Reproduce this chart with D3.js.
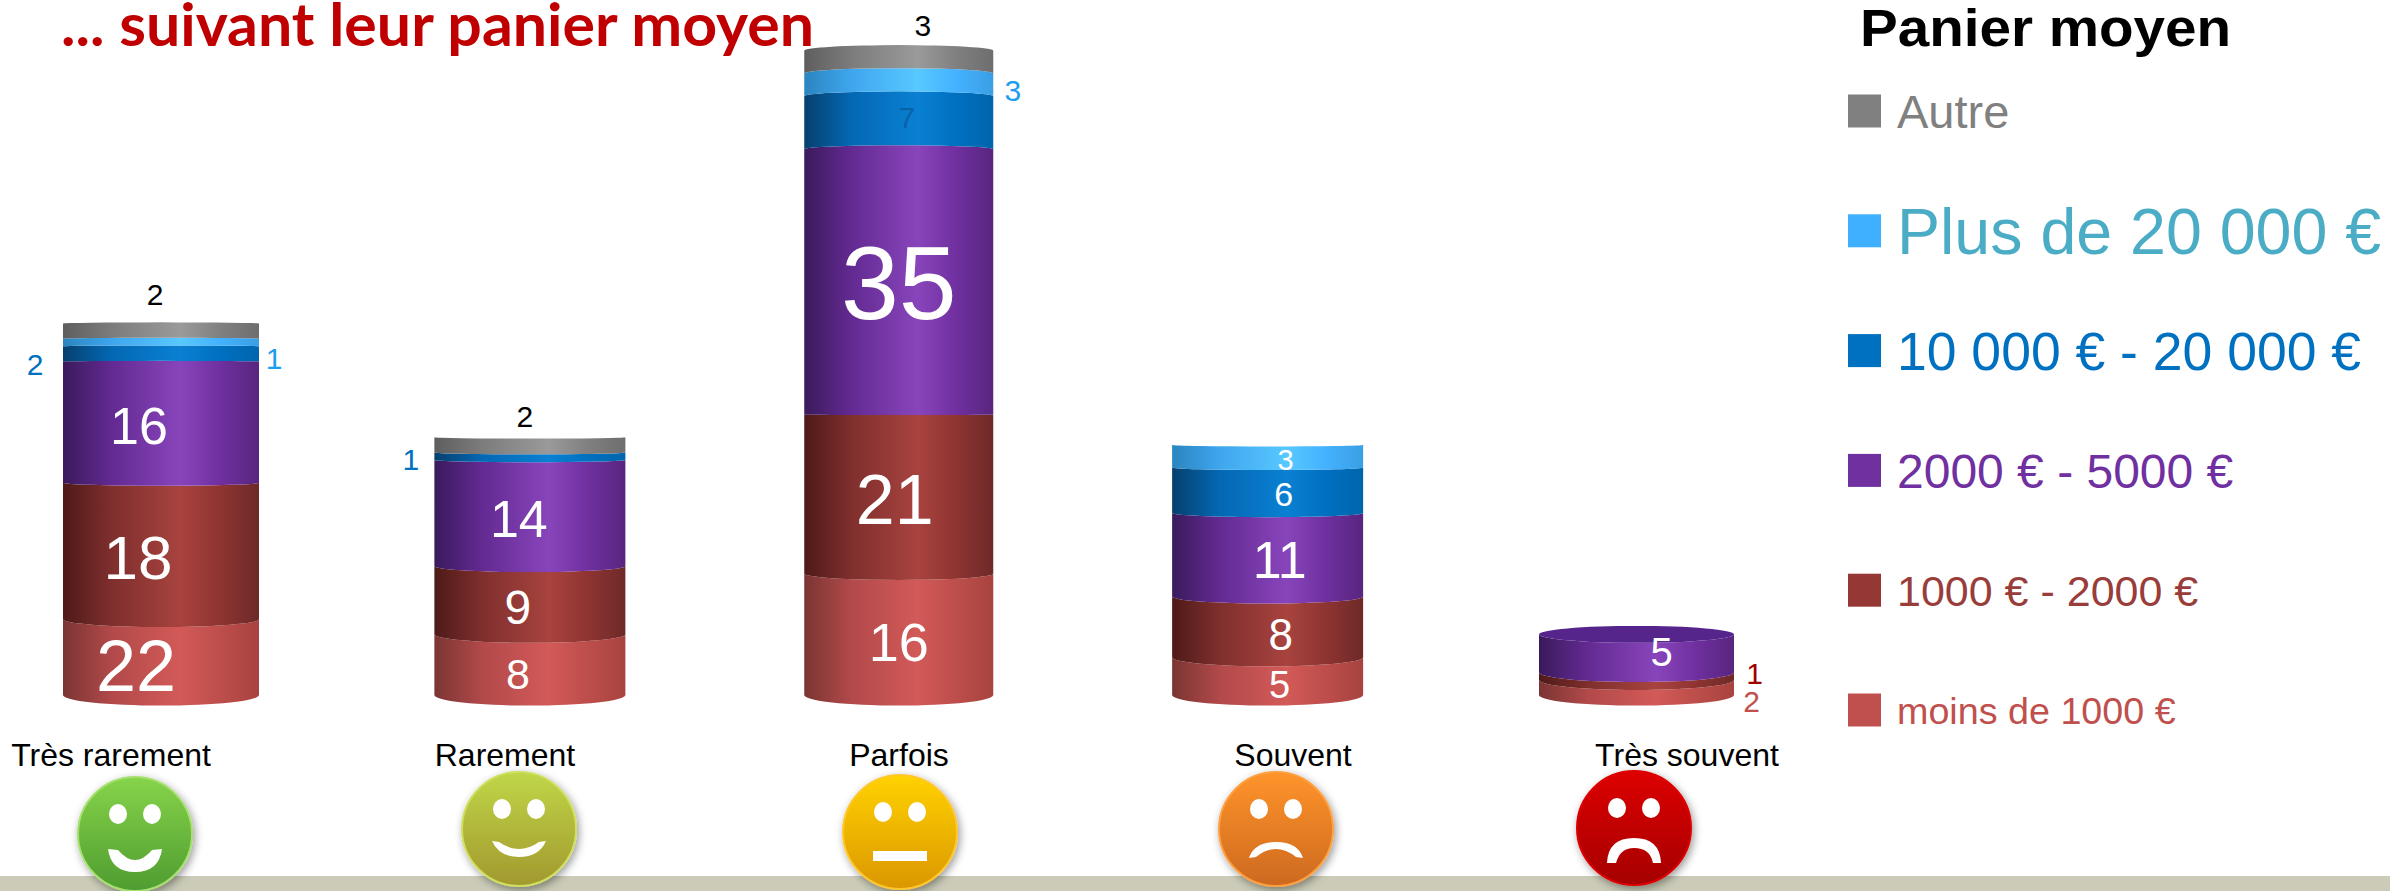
<!DOCTYPE html>
<html>
<head>
<meta charset="utf-8">
<script src="https://cdn.jsdelivr.net/npm/d3@7/dist/d3.min.js"></script>
<style>
html, body { margin: 0; padding: 0; background: #fff; overflow: hidden; }
text { font-family: "Liberation Sans", Arial, sans-serif; }
</style>
</head>
<body>
<svg id="chart" width="2390" height="891"></svg>
<script>
var categories = ["Très rarement", "Rarement", "Parfois", "Souvent", "Très souvent"];

// values printed on the chart
var moins1000 = [22, 8, 16, 5, 2];
var de1000a2000 = [18, 9, 21, 8, 1];
var de2000a5000 = [16, 14, 35, 11, 5];
var de10000a20000 = [2, 1, 7, 6, 0];
var plus20000 = [1, 0, 3, 3, 0];
var autre = [2, 2, 3, 0, 0];

// the first cylinder's bottom slice is drawn about half as tall as its "22" says
var moins1000Drawn = [10, 8, 16, 5, 2];

var seriesNames = ["moins de 1000 €", "1000 € - 2000 €", "2000 € - 5000 €", "10 000 € - 20 000 €", "Plus de 20 000 €", "Autre"];
var printed = [moins1000, de1000a2000, de2000a5000, de10000a20000, plus20000, autre];
var drawn = [moins1000Drawn, de1000a2000, de2000a5000, de10000a20000, plus20000, autre];
var mouths = ["smile", "smallSmile", "flat", "smallSad", "sad"];

// layout and styles
var swatchColors = ["#c0504d", "#953735", "#7030a0", "#0070c0", "#3fafff", "#808080"];
var legendColors = ["#c0504d", "#993d3b", "#7030a0", "#0070c0", "#4bacc6", "#808080"];
var legendSizes = [37.7, 43, 48, 53.5, 64.5, 47];
var gradients = [
    ["#7a3533", "#b2494a", "#d25a58", "#bd4e4b", "#a8433f"],
    ["#4e1a18", "#7f2f2d", "#a8433f", "#8f3432", "#6d2a28"],
    ["#3a1a5c", "#632a92", "#8845bb", "#7030a0", "#58257f"],
    ["#06406e", "#0468b4", "#0a80d2", "#0070c0", "#0065ad"],
    ["#2a85bf", "#3fa6ee", "#58c8ff", "#44b2ff", "#3a9fe4"],
    ["#5e5e5e", "#7c7c7c", "#9a9a9a", "#808080", "#6e6e6e"]
];
var smileyColors = [
    ["#86d44a", "#4f9c30", "#a6e070"],
    ["#c0d648", "#a2992e", "#cfe060"],
    ["#ffd200", "#db9700", "#ffc72e"],
    ["#ff942b", "#cd691f", "#ffa040"],
    ["#dd0000", "#a50000", "#dd0000"]
];
var smileyCenters = [[135, 834], [519, 829], [900, 832], [1276, 829], [1634, 828]];
var categoryLabelX = [111, 505, 899, 1293, 1687];
var halfWidths = [98, 95.5, 94.5, 95.5, 97.5];

// [series, category, dx, dy, font size, colour], offsets from the slice's centre
var valueLabels = [
    [0, 0, -25, 8, 72, "#fff"], [1, 0, -23, 6, 62, "#fff"], [2, 0, -22, 3, 52, "#fff"],
    [3, 0, -126, 10, 30, "#0070c0"], [4, 0, 113, 16, 30, "#1b9df0"], [5, 0, -6, -37, 30, "#000"],
    [0, 1, -12, 9, 43, "#fff"], [1, 1, -12, 7, 48, "#fff"], [2, 1, -11, 5, 52, "#fff"],
    [3, 1, -119, 3, 30, "#0070c0"], [5, 1, -5, -29, 30, "#000"],
    [0, 2, 0, 7, 54, "#fff"], [1, 2, -4, 5, 70, "#fff"], [2, 2, 0, 0, 104, "#fff"],
    [3, 2, 8, -5, 30, "#0a62a8"], [4, 2, 114, 5, 30, "#1b9df0"], [5, 2, 24, -37, 30, "#000"],
    [0, 3, 12, 8, 38, "#fff"], [1, 3, 13, 7, 44, "#fff"], [2, 3, 12, 5, 52, "#fff"],
    [3, 3, 16, 3, 34, "#fff"], [4, 3, 18, 3, 29, "#fff"],
    [0, 4, 115, 14, 30, "#c0504d"], [1, 4, 118, -3, 30, "#a00000"], [2, 4, 25, -2, 40, "#fff"]
];

var svg = d3.select("#chart");
var defs = svg.append("defs");

var x = d3.scalePoint().domain(categories).range([161, 1636.5]);
var y = d3.scaleLinear().domain([0, 85]).range([695, 50.7]);
var legendY = d3.scalePoint().domain(seriesNames.slice().reverse()).range([111, 710]);

// how far a cylinder's front edge bows at a given height on the page
function sag(py) {
    return py > 400 ? 0.036 * (py - 400) : 0.016 * (py - 400);
}

function slicePath(cx, hw, y0, y1) {
    var s0 = sag(y0), s1 = sag(y1);
    return "M" + (cx - hw) + "," + y1 +
        "A" + hw + "," + Math.max(Math.abs(s1), 0.01) + " 0 0," + (s1 > 0 ? 0 : 1) + " " + (cx + hw) + "," + y1 +
        "L" + (cx + hw) + "," + y0 +
        "A" + hw + "," + Math.max(Math.abs(s0), 0.01) + " 0 0," + (s0 > 0 ? 1 : 0) + " " + (cx - hw) + "," + y0 + "Z";
}

gradients.forEach(function(stops, i) {
    var g = defs.append("linearGradient").attr("id", "slice" + i);
    [0, 0.25, 0.6, 0.8, 1].forEach(function(o, j) {
        g.append("stop").attr("offset", o).attr("stop-color", stops[j]);
    });
});

smileyColors.forEach(function(c, i) {
    var g = defs.append("linearGradient").attr("id", "face" + i)
        .attr("x1", 0).attr("y1", 0).attr("x2", 0).attr("y2", 1);
    g.append("stop").attr("offset", 0).attr("stop-color", c[0]);
    g.append("stop").attr("offset", 1).attr("stop-color", c[1]);
});

var shadow = defs.append("filter").attr("id", "shadow")
    .attr("x", "-20%").attr("y", "-20%").attr("width", "140%").attr("height", "140%");
shadow.append("feDropShadow").attr("dx", 2).attr("dy", 3).attr("stdDeviation", 4)
    .attr("flood-color", "#000").attr("flood-opacity", 0.4);

// ground
svg.append("rect").attr("x", 0).attr("y", 876).attr("width", 2390).attr("height", 15).attr("fill", "#cbcbb8");

// title
svg.append("text").attr("x", 61).attr("y", 46)
    .attr("textLength", 753).attr("lengthAdjust", "spacingAndGlyphs")
    .style("font-family", "Lato, sans-serif").style("font-weight", 700).style("font-size", "60px")
    .attr("fill", "#c00000").text("... suivant leur panier moyen");

// cylinders
var slices = [];
categories.forEach(function(cat, c) {
    var total = 0;
    drawn.forEach(function(values, s) {
        slices.push({ cat: cat, c: c, s: s, start: total, end: total + values[c] });
        total += values[c];
    });
});

svg.append("g").selectAll("path")
    .data(slices.filter(function(d) { return d.end > d.start; }))
    .enter().append("path")
    .attr("fill", function(d) { return "url(#slice" + d.s + ")"; })
    .attr("d", function(d) { return slicePath(x(d.cat), halfWidths[d.c], y(d.start), y(d.end)); });

// the top face only shows on cylinders well below eye level
categories.forEach(function(cat, c) {
    var total = d3.sum(drawn, function(values) { return values[c]; });
    var py = y(total);
    if (sag(py) > 3) {
        svg.append("ellipse").attr("cx", x(cat)).attr("cy", py)
            .attr("rx", halfWidths[c]).attr("ry", sag(py)).attr("fill", "#56258c");
    }
});

// value labels
svg.append("g").selectAll("text")
    .data(valueLabels)
    .enter().append("text")
    .attr("text-anchor", "middle")
    .attr("x", function(d) { return x(categories[d[1]]) + d[2]; })
    .attr("y", function(d) {
        var before = d3.sum(drawn.slice(0, d[0]), function(values) { return values[d[1]]; });
        return y(before + drawn[d[0]][d[1]] / 2) + d[3] + d[4] * 0.358;
    })
    .style("font-size", function(d) { return d[4] + "px"; })
    .attr("fill", function(d) { return d[5]; })
    .text(function(d) { return printed[d[0]][d[1]]; });

// category labels
svg.append("g").selectAll("text")
    .data(categories)
    .enter().append("text")
    .attr("text-anchor", "middle")
    .attr("x", function(d, i) { return categoryLabelX[i]; })
    .attr("y", 766)
    .style("font-size", "32px")
    .attr("fill", "#000")
    .text(function(d) { return d; });

// smileys
function mouthPath(kind) {
    switch (kind) {
        case "smile": return "M-27,15 L-17,16 Q0,36 17,16 L27,15 Q24,38 0,38 Q-24,38 -27,15 Z";
        case "smallSmile": return "M-27,12 L-20,13 Q0,27 20,13 L27,12 Q20,28 0,28 Q-20,28 -27,12 Z";
        case "flat": return "M-27,19 L27,19 L27,29 L-27,29 Z";
        case "smallSad": return "M-27,29 Q-22,13 0,13 Q22,13 27,29 L20,28 Q0,12 -20,28 Z";
        default: return "M-27,35 Q-26,10 0,10 Q26,10 27,35 L19,35 Q16,20 0,20 Q-14,20 -18,35 Z";
    }
}

var smiley = svg.append("g").selectAll("g")
    .data(mouths)
    .enter().append("g")
    .attr("transform", function(d, i) { return "translate(" + smileyCenters[i] + ")"; });

smiley.append("circle")
    .attr("r", 57)
    .attr("fill", function(d, i) { return "url(#face" + i + ")"; })
    .attr("stroke", function(d, i) { return smileyColors[i][2]; })
    .attr("stroke-width", 2)
    .attr("filter", "url(#shadow)");

[-17, 17].forEach(function(ex) {
    smiley.append("ellipse").attr("cx", ex).attr("cy", -20).attr("rx", 9).attr("ry", 10).attr("fill", "#fff");
});

smiley.append("path").attr("fill", "#fff").attr("d", mouthPath);

// legend
svg.append("text").attr("x", 1860).attr("y", 46)
    .attr("textLength", 371).attr("lengthAdjust", "spacingAndGlyphs")
    .style("font-weight", 700).style("font-size", "51px").attr("fill", "#000").text("Panier moyen");

var legend = svg.append("g").selectAll("g")
    .data(seriesNames)
    .enter().append("g")
    .attr("transform", function(d) { return "translate(1848," + legendY(d) + ")"; });

legend.append("rect")
    .attr("x", 0).attr("y", -16.5).attr("width", 33).attr("height", 33)
    .attr("fill", function(d, i) { return swatchColors[i]; });

legend.append("text")
    .attr("x", 49)
    .attr("y", function(d, i) { return legendSizes[i] * 0.358; })
    .style("font-size", function(d, i) { return legendSizes[i] + "px"; })
    .attr("fill", function(d, i) { return legendColors[i]; })
    .text(function(d) { return d; });
</script>
</body>
</html>
